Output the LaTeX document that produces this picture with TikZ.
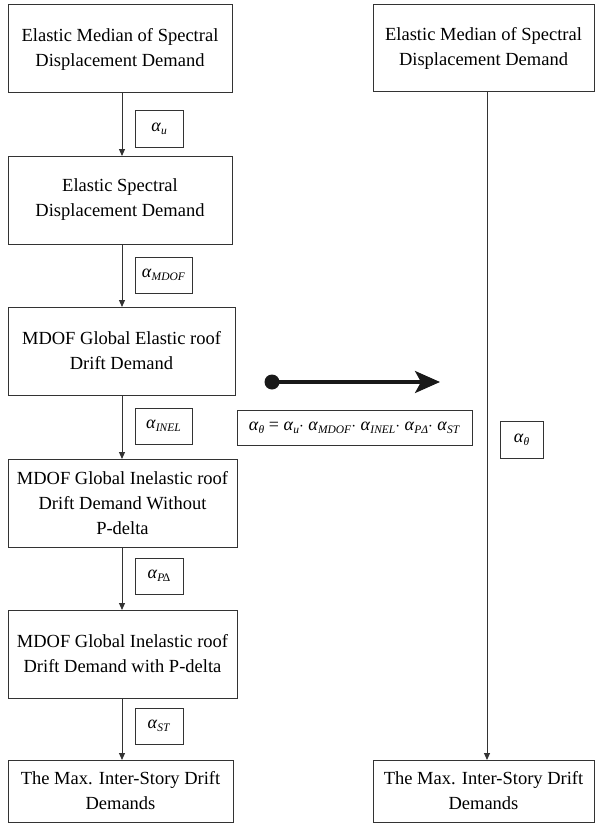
\documentclass[tikz,border=0pt]{standalone}
\usepackage{fontspec}
\setmainfont{Liberation Serif}
\usetikzlibrary{arrows.meta}
\newcommand\al[1]{\textit{α}\raisebox{-0.35ex}{\fontsize{11.5}{11.5}\selectfont\textit{#1}}}
\begin{document}
\begin{tikzpicture}[x=1pt,y=-1pt,
  every node/.style={inner sep=0pt, outer sep=0pt},
  mainbox/.style={draw=black!80, line width=1pt, rectangle, align=center,
    font=\fontsize{18.5}{25}\selectfont, minimum height=88pt},
  labbox/.style={draw=black!80, line width=1pt, rectangle,
    font=\fontsize{18}{20}\selectfont, minimum height=36pt},
  flow/.style={draw=black!80, line width=1pt, -{Triangle[length=7pt,width=6pt]}}]
\useasboundingbox (0,0) rectangle (595,824);
% left column
\node[mainbox, minimum width=224pt] (b1) at (120,49) {Elastic Median of Spectral\\Displacement Demand};
\node[mainbox, minimum width=224pt] (b2) at (120,200) {Elastic Spectral\\Displacement Demand};
\node[mainbox, minimum width=227pt] (b3) at (121.5,351) {MDOF Global Elastic roof\\Drift Demand};
\node[mainbox, minimum width=229pt] (b4) at (122.5,503) {MDOF Global Inelastic roof\\Drift Demand Without\\P-delta};
\node[mainbox, minimum width=229pt] (b5) at (122.5,654) {MDOF Global Inelastic roof\\Drift Demand with P-delta};
\node[mainbox, minimum width=225pt, minimum height=62pt] (b6) at (120.5,791) {The Max. Inter-Story Drift\\Demands};
\coordinate (ax) at (122,0);
\draw[flow] (b1.south -| ax) -- (b2.north -| ax);
\draw[flow] (b2.south -| ax) -- (b3.north -| ax);
\draw[flow] (b3.south -| ax) -- (b4.north -| ax);
\draw[flow] (b4.south -| ax) -- (b5.north -| ax);
\draw[flow] (b5.south -| ax) -- (b6.north -| ax);
\node[labbox, minimum width=48pt] (l1) at (159,129) {\al{u}};
\node[labbox, minimum width=57pt] (l2) at (163.5,275) {\al{MDOF}};
\node[labbox, minimum width=57pt] (l3) at (163.5,426) {\al{INEL}};
\node[labbox, minimum width=48pt] (l4) at (159,576) {\al{P}\kern-1.5pt\raisebox{-0.35ex}{\fontsize{11.5}{11.5}\selectfont Δ}};
\node[labbox, minimum width=48pt] (l5) at (159,726) {\al{ST}};
% middle
\node[labbox, minimum width=235pt, minimum height=35pt] (f) at (354.5,427.5)
  {\al{θ} = \al{u}$\cdot$ \al{MDOF}$\cdot$ \al{INEL}$\cdot$ \al{PΔ}$\cdot$ \al{ST}};
\coordinate (s) at (272,382);
\coordinate (e) at (440,382);
\fill[black!90] (s) circle (7.5pt);
\draw[black!90, line width=3.2pt, -{Stealth[length=25pt,width=22pt,inset=6pt]}] (s) -- (e);
% right column
\node[mainbox, minimum width=221pt, minimum height=87pt] (r1) at (483.5,48.5) {Elastic Median of Spectral\\Displacement Demand};
\node[mainbox, minimum width=221pt, minimum height=62pt] (r6) at (483.5,791) {The Max. Inter-Story Drift\\Demands};
\coordinate (rx) at (487,0);
\draw[flow] (r1.south -| rx) -- (r6.north -| rx);
\node[labbox, minimum width=43pt, minimum height=37pt] (lt) at (521.5,439.5) {\al{θ}};
\end{tikzpicture}
\end{document}
